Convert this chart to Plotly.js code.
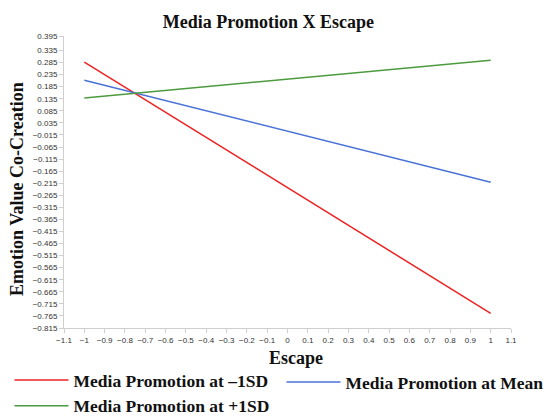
<!DOCTYPE html>
<html>
<head>
<meta charset="utf-8">
<script src="https://cdn.plot.ly/plotly-3.0.1.min.js"></script>
<style>html,body{margin:0;padding:0;background:#fff;}#chart{width:550px;height:417px;}</style>
</head>
<body>
<div id="chart"></div>
<script>
const escapeX = [-1, 1];
const seriesNames = ["Media Promotion at \u20131SD", "Media Promotion at Mean", "Media Promotion at +1SD"];
const lowSD = [0.287, -0.754];
const meanVals = [0.212, -0.211];
const highSD = [0.138, 0.294];
const seriesColors = ["#ee2222", "#4a72d6", "#4c9a3e"];
const seriesLegends = ["legend", "legend2", "legend"];
const xTickVals = [-1.1, -1, -0.9, -0.8, -0.7, -0.6, -0.5, -0.4, -0.3, -0.2, -0.1, 0, 0.1, 0.2, 0.3, 0.4, 0.5, 0.6, 0.7, 0.8, 0.9, 1, 1.1];
const xTickText = ["-1.1", "-1", "-0.9", "-0.8", "-0.7", "-0.6", "-0.5", "-0.4", "-0.3", "-0.2", "-0.1", "0", "0.1", "0.2", "0.3", "0.4", "0.5", "0.6", "0.7", "0.8", "0.9", "1", "1.1"];
const yTickVals = [-0.815, -0.765, -0.715, -0.665, -0.615, -0.565, -0.515, -0.465, -0.415, -0.365, -0.315, -0.265, -0.215, -0.165, -0.115, -0.065, -0.015, 0.035, 0.085, 0.135, 0.185, 0.235, 0.285, 0.335, 0.395];
const yTickText = ["-0.815", "-0.765", "-0.715", "-0.665", "-0.615", "-0.565", "-0.515", "-0.465", "-0.415", "-0.365", "-0.315", "-0.265", "-0.215", "-0.165", "-0.115", "-0.065", "-0.015", "0.035", "0.085", "0.135", "0.185", "0.235", "0.285", "0.335", "0.395"];
const xTitle = "Escape";
const yTitle = "Emotion Value Co-Creation";
const chartTitle = "Media Promotion X Escape";

const minus = s => s.replace('-', '\u2212');
const serif = "Liberation Serif, Times New Roman, serif";
const sans = "Liberation Sans, Arial, Helvetica, sans-serif";

const values = [lowSD, meanVals, highSD];
const traces = values.map((v, i) => ({
  x: escapeX, y: v, type: 'scatter', mode: 'lines', name: seriesNames[i],
  legend: seriesLegends[i],
  line: {color: seriesColors[i], width: 1.5}
}));

const legendFont = {family: serif, size: 17.5, color: '#111', weight: 'bold'};
const axisTitleFont = {family: serif, size: 18, color: '#111', weight: 'bold'};

const layout = {
  width: 550, height: 417,
  margin: {l: 64, r: 39, t: 36, b: 89, autoexpand: false},
  paper_bgcolor: '#fff', plot_bgcolor: '#fff',
  title: {text: chartTitle, font: {family: serif, size: 18, color: '#111', weight: 'bold'}, x: 0.488, xanchor: 'center', y: 0.947, yanchor: 'middle'},
  xaxis: {
    range: [-1.1, 1.1], tickmode: 'array', tickvals: xTickVals, ticktext: xTickText.map(minus),
    showgrid: false, zeroline: false, showline: true, linecolor: '#cfcfcf', linewidth: 1,
    ticks: 'outside', ticklen: 4, tickcolor: '#cfcfcf',
    tickfont: {family: sans, size: 8, color: '#333'}
  },
  yaxis: {
    range: [-0.815, 0.395], tickmode: 'array', tickvals: yTickVals, ticktext: yTickText.map(minus),
    showgrid: false, zeroline: false, showline: true, linecolor: '#cfcfcf', linewidth: 1,
    ticks: 'outside', ticklen: 4, tickcolor: '#cfcfcf',
    tickfont: {family: sans, size: 8, color: '#333'}
  },
  annotations: [
    {text: xTitle, xref: 'paper', yref: 'paper', x: (295.5 - 64) / 447, y: (328 - 358) / 292,
     xanchor: 'center', yanchor: 'middle', showarrow: false, font: axisTitleFont},
    {text: yTitle, xref: 'paper', yref: 'paper', x: (17 - 64) / 447, y: (328 - 189) / 292,
     xanchor: 'center', yanchor: 'middle', textangle: -90, showarrow: false, font: axisTitleFont}
  ],
  showlegend: true,
  legend: {
    orientation: 'v', x: 9.5 / 550, xref: 'container', xanchor: 'left',
    y: 1 - 362 / 417, yref: 'container', yanchor: 'top',
    itemwidth: 54, font: legendFont, bgcolor: 'rgba(0,0,0,0)', tracegroupgap: 0
  },
  legend2: {
    orientation: 'v', x: 281.5 / 550, xref: 'container', xanchor: 'left',
    y: 1 - 364 / 417, yref: 'container', yanchor: 'top',
    itemwidth: 54, font: legendFont, bgcolor: 'rgba(0,0,0,0)'
  }
};

Plotly.newPlot('chart', traces, layout, {displayModeBar: false, staticPlot: true});
</script>
</body>
</html>
